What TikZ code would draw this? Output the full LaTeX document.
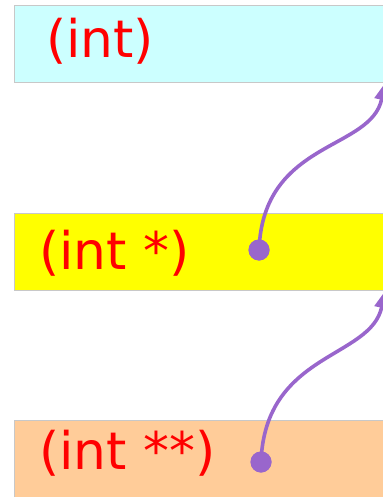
\documentclass[tikz,border=0pt]{standalone}
\usepackage{fontspec}
\setmainfont{DejaVu Sans}
\usetikzlibrary{arrows.meta, positioning}
\definecolor{cellcyan}{HTML}{CCFFFF}
\definecolor{cellyellow}{HTML}{FFFF00}
\definecolor{cellpeach}{HTML}{FFCC99}
\definecolor{ptrline}{HTML}{9966CC}
\definecolor{cellrule}{HTML}{C8C8C8}
\tikzset{
  cell/.style={draw=cellrule, line width=0.8bp, minimum width=372bp,
               minimum height=77bp, inner sep=0pt, outer sep=0pt, anchor=north west},
  tname/.style={text=red, font=\fontsize{52}{60}\selectfont,
                inner sep=0pt, anchor=base west},
  pdot/.style={circle, fill=ptrline, minimum size=21bp, inner sep=0pt},
  parr/.style={-{Triangle[length=17bp, width=14bp]}, line width=3.6bp, ptrline},
}

\begin{document}
\begin{tikzpicture}[x=1bp, y=-1bp]
  \useasboundingbox (0,0) rectangle (382,497);
  % the three cells
  \node[cell, fill=cellcyan] (c1) at (14,5) {};
  \node[cell, fill=cellyellow] (c2) at (14,213) {};
  \node[cell, fill=cellpeach, minimum height=80bp] (c3) at (14,420) {};
  % type names
  \node[tname] (n1) at (46,58) {(int)};
  \node[tname] (n2) at (39,269) {(int *)};
  \node[tname] (n3) at (39,469) {(int **)};
  % pointer targets
  \coordinate (t1) at ([xshift=-1bp, yshift=-1bp]c1.south east);
  \coordinate (t2) at ([xshift=-1bp, yshift=-1bp]c2.south east);
  % pointers
  \node[pdot] (d2) at (259,250) {};
  \node[pdot] (d3) at (261,462) {};
  \draw[parr] (d2.center) .. controls +(4,-110) and +(-14,68) .. (t1);
  \draw[parr] (d3.center) .. controls +(4,-110) and +(-14,68) .. (t2);
  \node[pdot] at (d2) {};
  \node[pdot] at (d3) {};
\end{tikzpicture}
\end{document}
